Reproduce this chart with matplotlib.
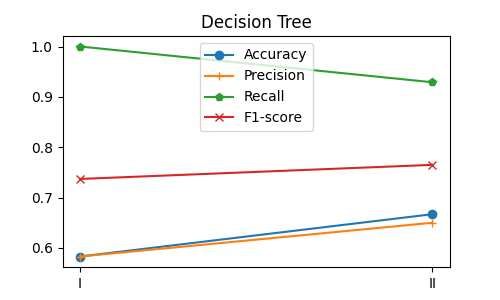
import matplotlib
matplotlib.use("Agg")
import matplotlib.pyplot as plt

categories = ["I", "II"]
accuracy = [0.583, 0.667]
precision = [0.583, 0.650]
recall = [1.0, 0.929]
f1 = [0.737, 0.765]

fig, ax = plt.subplots(figsize=(5, 3), dpi=100)
x = range(len(categories))
ax.plot(x, accuracy, marker="o", label="Accuracy")
ax.plot(x, precision, marker="+", label="Precision")
ax.plot(x, recall, marker="p", label="Recall")
ax.plot(x, f1, marker="x", label="F1-score")
ax.set_xticks(list(x))
ax.set_xticklabels(categories)
ax.set_title("Decision Tree")
ax.legend(loc="upper center")
fig.savefig("out.png")
